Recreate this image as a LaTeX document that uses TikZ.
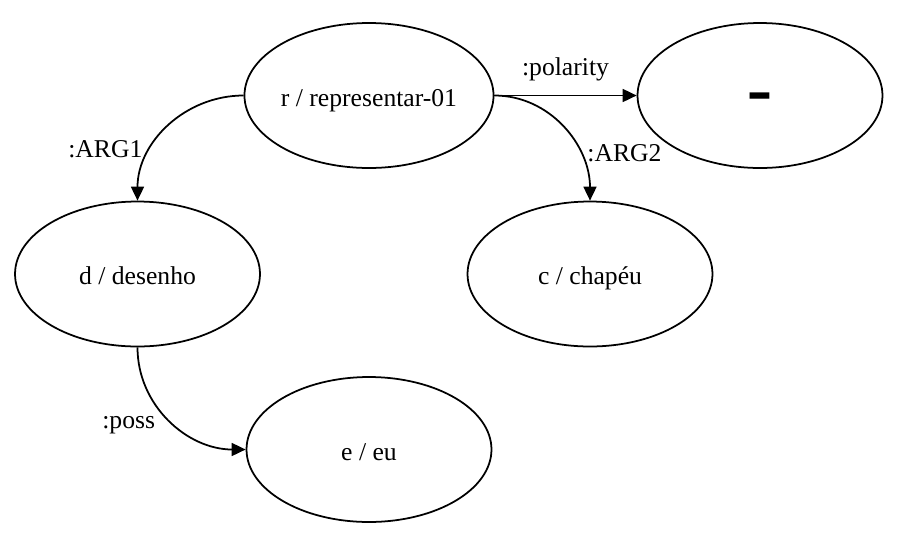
\documentclass[tikz,border=0pt]{standalone}
\usepackage{fontspec}
\setmainfont{Liberation Serif}
\setsansfont{Liberation Sans}
\usetikzlibrary{shapes.geometric, arrows.meta}

\begin{document}
\begin{tikzpicture} [x = 0.02cm, y = -0.02cm, line width = 1pt,
  font = \fontsize{14.6}{17}\selectfont,
  concept/.style = {draw, ellipse, minimum width = 4.9cm, minimum height = 2.9cm, inner sep = 0pt, text height = 1.2em, text depth = 0pt},
  rel/.style = {-{Triangle[length = 2.8mm, width = 2.6mm]}}]
\useasboundingbox (0,0) rectangle (903,542);
\node[concept] (r) at (369,95.5) {r / representar-01};
\node[concept, font = \fontsize{46}{46}\sffamily, text height = 25pt] (neg) at (760,95.5) {-};
\node[concept] (d) at (137.5,274) {d / desenho};
\node[concept] (c) at (590,274) {c / chapéu};
\node[concept] (e) at (369,449.5) {e / eu};
\draw [rel] (r.west) to[out = 180, in = 90] node[left = 1pt, pos = .68]{:ARG1} (d.north);
\draw [rel] (r.east) to[out = 0, in = 90] node[right = .5pt, pos = .7]{:ARG2} (c.north);
\draw [rel] (r.east) -- (neg.west) node[above = 4.5pt, pos = .5]{:polarity};
\draw [rel] (d.south) to[out = -90, in = 180] node[left = 8pt, pos = .55]{:poss} (e.west);
\end{tikzpicture}
\end{document}
